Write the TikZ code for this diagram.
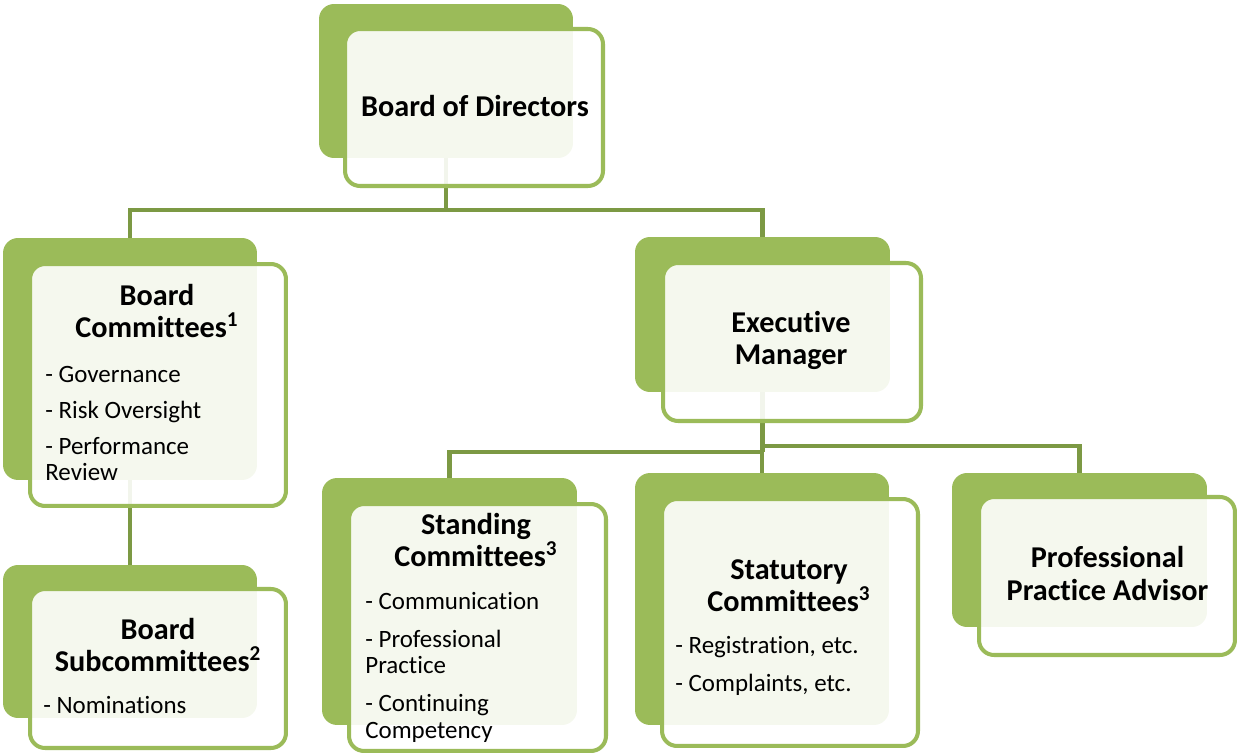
\documentclass[tikz,border=0pt]{standalone}
\usepackage{fontspec}
\setmainfont{Carlito}[Ligatures=NoCommon]
\usepackage{tikz}
\usetikzlibrary{backgrounds}
\definecolor{boxgreen}{RGB}{155,187,89}
\definecolor{linkgreen}{RGB}{124,153,68}

\begin{document}
\begin{tikzpicture}[x=0.02cm,y=-0.02cm,
    back/.style={fill=boxgreen,rounded corners=0.3cm,inner sep=0pt,outer sep=0pt},
    front/.style={draw=boxgreen,line width=2.3pt,fill=white,fill opacity=0.9,rounded corners=0.3cm,inner sep=0pt,outer sep=0pt},
    title/.style={font=\fontsize{17.2}{18.3}\selectfont\bfseries,align=center,inner sep=0pt,anchor=base},
    items/.style={font=\fontsize{14.2}{15}\selectfont,align=left,inner sep=0pt,anchor=base west},
    link/.style={draw=linkgreen,line width=2.3pt}]
      \useasboundingbox (0,0) rectangle (1237,756);
      \node[back,minimum width=5.08cm,minimum height=3.08cm] (bodB) at (446,81) {};
      \node[back,minimum width=5.08cm,minimum height=4.84cm] (bcB) at (130,359) {};
      \node[back,minimum width=5.08cm,minimum height=3.06cm] (bsB) at (130,641.5) {};
      \node[back,minimum width=5.10cm,minimum height=3.10cm] (emB) at (762.5,314.5) {};
      \node[back,minimum width=5.10cm,minimum height=4.94cm] (scB) at (449.5,601.5) {};
      \node[back,minimum width=5.08cm,minimum height=5.04cm] (stB) at (762,599) {};
      \node[back,minimum width=5.10cm,minimum height=3.08cm] (ppB) at (1079.5,550) {};
      \node[front,minimum width=5.16cm,minimum height=3.14cm] (bodF) at (474,107.5) {};
      \node[front,minimum width=5.12cm,minimum height=4.84cm] (bcF) at (158,385) {};
      \node[front,minimum width=5.12cm,minimum height=3.18cm] (bsF) at (158,668.5) {};
      \node[front,minimum width=5.16cm,minimum height=3.16cm] (emF) at (792,342) {};
      \node[front,minimum width=5.14cm,minimum height=4.94cm] (scF) at (477.5,627.5) {};
      \node[front,minimum width=5.12cm,minimum height=4.94cm] (stF) at (790,622.5) {};
      \node[front,minimum width=5.12cm,minimum height=3.16cm] (ppF) at (1107,576) {};
      \node[title] (bodT) at (475,117) {Board of Directors};
      \node[title] (bcT) at (157,338) {Board\\Committees\textsuperscript{1}};
      \node[items] (bcI) at (45,480.7) {- Governance\\[5.5pt]- Risk Oversight\\[5.5pt]- Performance\\Review};
      \node[title] (bsT) at (158,671.7) {Board\\Subcommittees\textsuperscript{2}};
      \node[items] (bsI) at (43,713) {- Nominations};
      \node[title] (emT) at (791,365) {Executive\\Manager};
      \node[title] (scT) at (476,566.7) {Standing\\Committees\textsuperscript{3}};
      \node[items] (scI) at (365,738) {- Communication\\[6.5pt]- Professional\\Practice\\[6.5pt]- Continuing\\Competency};
      \node[title] (stT) at (789,611.7) {Statutory\\Committees\textsuperscript{3}};
      \node[items] (stI) at (675,691.7) {- Registration, etc.\\[6.5pt]- Complaints, etc.};
      \node[title] (ppT) at (1107.5,600) {Professional\\Practice Advisor};
      \coordinate (j1) at (446,210);
      \coordinate (j2) at (762.5,452);
      \coordinate (j3) at (762.5,446);
      \begin{pgfonlayer}{background}
        \path[link] (bodB.south) -- (j1);
        \path[link] (j1) -| (bcB.north);
        \path[link] (j1) -| (emB.north);
        \path[link] (bcB.south) -- (bsB.north);
        \path[link] (emB.south) -- (j2);
        \path[link] (j2) -| (scB.north);
        \path[link] (j2) -| (stB.north);
        \path[link] (j3) -| (ppB.north);
      \end{pgfonlayer}
    \end{tikzpicture}
\end{document}
